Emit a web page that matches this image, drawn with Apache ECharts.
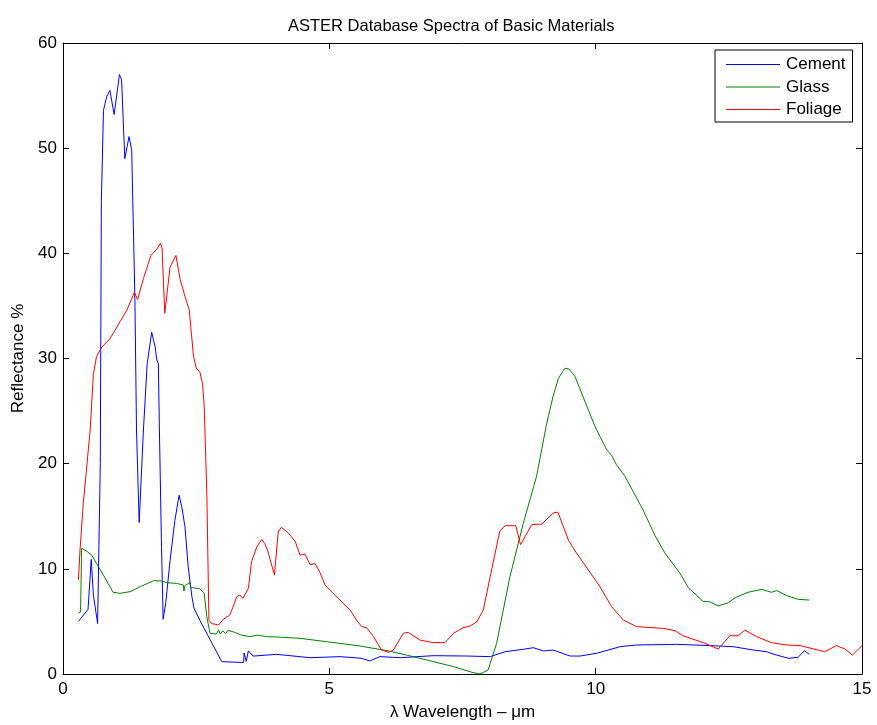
<!DOCTYPE html>
<html>
<head>
<meta charset="utf-8">
<script src="https://cdn.jsdelivr.net/npm/echarts@6/dist/echarts.min.js"></script>
<style>
  html, body { margin: 0; padding: 0; background: #fff; }
  #chart { width: 877px; height: 725px; }
</style>
</head>
<body>
<div id="chart"></div>
<script>
// wavelength (µm) and reflectance (%)
const cementWl = [0.29, 0.47, 0.53, 0.57, 0.65, 0.70, 0.72, 0.76, 0.82, 0.88, 0.96, 1.06, 1.10, 1.16, 1.24, 1.29, 1.35, 1.38, 1.43, 1.51, 1.58, 1.665, 1.73, 1.76, 1.79, 1.81, 1.85, 1.88, 1.93, 2.01, 2.10, 2.18, 2.23, 2.26, 2.29, 2.35, 2.42, 2.46, 2.57, 2.98, 3.35, 3.39, 3.40, 3.44, 3.48, 3.51, 3.57, 4.01, 4.64, 5.20, 5.60, 5.76, 5.95, 6.33, 6.95, 7.58, 8.02, 8.30, 8.64, 8.83, 9.02, 9.20, 9.52, 9.71, 10.02, 10.46, 10.77, 11.52, 12.15, 12.58, 12.96, 13.21, 13.33, 13.62, 13.80, 13.92, 14.01];
const cementR = [5.0, 6.15, 10.9, 7.5, 4.8, 20, 45, 53.6, 54.9, 55.5, 53.2, 57.0, 56.5, 49.0, 51.1, 49.8, 35.6, 23.2, 14.4, 23.2, 29.5, 32.5, 31.1, 29.9, 29.5, 23.2, 12.0, 5.2, 6.8, 10.8, 14.6, 17.0, 15.9, 15.8, 14.0, 10.2, 7.35, 6.25, 5.1, 1.17, 1.1, 1.1, 2.0, 1.2, 2.2, 2.35, 1.7, 1.87, 1.55, 1.65, 1.5, 1.24, 1.65, 1.55, 1.74, 1.71, 1.65, 2.12, 2.35, 2.5, 2.19, 2.28, 1.71, 1.71, 1.97, 2.6, 2.76, 2.82, 2.7, 2.6, 2.28, 2.12, 1.9, 1.49, 1.59, 2.22, 1.87];

const glassWl = [0.29, 0.33, 0.35, 0.38, 0.44, 0.54, 0.63, 0.76, 0.88, 0.94, 1.07, 1.26, 1.45, 1.70, 1.85, 1.95, 2.13, 2.26, 2.27, 2.29, 2.38, 2.40, 2.45, 2.57, 2.65, 2.70, 2.76, 2.88, 2.92, 2.95, 3.00, 3.05, 3.10, 3.20, 3.35, 3.51, 3.65, 3.82, 4.10, 4.45, 4.95, 5.58, 6.08, 6.45, 6.83, 7.33, 7.70, 7.83, 7.98, 8.14, 8.39, 8.64, 8.89, 9.08, 9.20, 9.30, 9.42, 9.50, 9.61, 9.80, 9.99, 10.21, 10.30, 10.39, 10.55, 10.89, 11.11, 11.30, 11.58, 11.74, 12.02, 12.15, 12.30, 12.49, 12.62, 12.86, 13.12, 13.30, 13.40, 13.59, 13.80, 14.01];
const glassR = [5.77, 5.9, 11.95, 12.1, 11.7, 11.3, 10.5, 9.4, 8.3, 7.77, 7.67, 7.83, 8.3, 8.87, 8.85, 8.68, 8.62, 8.46, 7.9, 8.4, 8.7, 8.2, 8.2, 8.1, 7.67, 5.45, 3.87, 3.8, 4.2, 3.8, 4.1, 3.85, 4.15, 4.0, 3.7, 3.55, 3.7, 3.55, 3.5, 3.39, 3.07, 2.66, 2.22, 1.8, 1.33, 0.7, 0.13, 0, 0.38, 2.9, 9.25, 14.3, 18.8, 23.8, 26.4, 28.1, 29.07, 29.0, 28.3, 25.9, 23.5, 21.3, 20.8, 19.9, 18.8, 15.6, 13.2, 11.5, 9.6, 8.2, 6.9, 6.85, 6.47, 6.78, 7.26, 7.77, 8.05, 7.77, 7.93, 7.45, 7.1, 7.03];

const foliageWl = [0.29, 0.32, 0.38, 0.44, 0.51, 0.57, 0.63, 0.73, 0.83, 0.88, 0.98, 1.07, 1.20, 1.34, 1.40, 1.51, 1.65, 1.76, 1.83, 1.86, 1.91, 2.01, 2.12, 2.20, 2.29, 2.37, 2.45, 2.50, 2.57, 2.62, 2.65, 2.70, 2.74, 2.79, 2.92, 3.01, 3.13, 3.20, 3.26, 3.32, 3.38, 3.48, 3.54, 3.64, 3.73, 3.79, 3.85, 3.97, 4.04, 4.10, 4.23, 4.36, 4.45, 4.54, 4.64, 4.73, 4.82, 4.92, 5.07, 5.26, 5.39, 5.51, 5.61, 5.70, 5.83, 5.98, 6.11, 6.20, 6.39, 6.48, 6.70, 6.95, 7.17, 7.33, 7.51, 7.64, 7.77, 7.89, 8.02, 8.20, 8.30, 8.50, 8.59, 8.80, 8.99, 9.20, 9.29, 9.49, 9.64, 9.89, 10.08, 10.30, 10.52, 10.77, 11.27, 11.49, 11.64, 12.02, 12.30, 12.52, 12.68, 12.80, 13.02, 13.30, 13.58, 13.84, 14.30, 14.52, 14.68, 14.82, 15.0];
const foliageR = [8.94, 11.8, 16.2, 19.4, 23.2, 28.5, 30.2, 31.1, 31.6, 31.9, 32.7, 33.5, 34.6, 36.3, 35.6, 37.6, 39.8, 40.4, 40.95, 40.5, 34.3, 38.7, 39.8, 37.5, 35.9, 34.6, 30.2, 29.1, 28.7, 27.6, 25.5, 17.2, 5.1, 4.8, 4.66, 5.2, 5.6, 6.47, 7.35, 7.5, 7.2, 8.15, 10.7, 12.1, 12.8, 12.4, 11.6, 9.4, 13.5, 13.95, 13.4, 12.6, 11.3, 11.4, 10.4, 10.5, 9.7, 8.46, 7.67, 6.72, 6.09, 5.13, 4.5, 4.4, 3.55, 2.28, 2.06, 2.28, 3.87, 3.96, 3.23, 2.98, 2.98, 3.87, 4.4, 4.56, 4.97, 6.09, 9.25, 13.6, 14.1, 14.1, 12.3, 14.2, 14.26, 15.3, 15.4, 12.7, 11.5, 9.7, 8.3, 6.4, 5.13, 4.5, 4.34, 4.12, 3.64, 2.98, 2.38, 3.64, 3.64, 4.18, 3.55, 2.98, 2.76, 2.7, 2.12, 2.7, 2.38, 1.8, 2.7];

const xTicks = [0, 5, 10, 15];
const yTicks = [0, 10, 20, 30, 40, 50, 60];

const zip = (xs, ys) => xs.map((x, i) => [x, ys[i]]);

const chart = echarts.init(document.getElementById('chart'));
const font = 'Liberation Sans, Arial, Helvetica, sans-serif';

// shared frame style: ticks inside on all four sides, like a matlab box
const boxAxis = {
  type: 'value',
  axisLine: { show: true, onZero: false, lineStyle: { color: '#000', width: 1 } },
  axisTick: { show: true, inside: true, length: 6, lineStyle: { color: '#000' } },
  splitLine: { show: false },
};

const option = {
  backgroundColor: '#fff',
  animation: false,
  title: {
    text: 'ASTER Database Spectra of Basic Materials',
    left: 283,
    top: 13,
    textStyle: { fontFamily: font, fontSize: 16.5, fontWeight: 'normal', color: '#000' }
  },
  grid: { left: 63, right: 15, top: 43, bottom: 51, outerBoundsMode: 'none', containLabel: false },
  legend: {
    orient: 'vertical',
    left: 715,
    top: 50,
    padding: [6, 7, 4, 11],
    itemGap: 5.5,
    itemWidth: 54,
    itemHeight: 17,
    // thin bar so the key reads as a plain 1px line
    icon: 'path://M0,0H54V1H0Z',
    borderColor: '#000',
    borderWidth: 1,
    borderRadius: 0,
    backgroundColor: '#fff',
    textStyle: { fontFamily: font, fontSize: 17, lineHeight: 17, color: '#000', padding: [0, 0, 0, 1] },
    data: ['Cement', 'Glass', 'Foliage']
  },
  xAxis: [
    Object.assign({}, boxAxis, {
      min: xTicks[0], max: xTicks[xTicks.length - 1], interval: 5,
      position: 'bottom',
      name: 'λ Wavelength – μm',
      nameLocation: 'middle',
      nameGap: 30,
      nameTextStyle: { fontFamily: font, fontSize: 17, color: '#000' },
      axisLabel: { fontFamily: font, fontSize: 17, color: '#000', margin: 7 }
    }),
    Object.assign({}, boxAxis, {
      min: xTicks[0], max: xTicks[xTicks.length - 1], interval: 5,
      position: 'top',
      axisLabel: { show: false }
    })
  ],
  yAxis: [
    Object.assign({}, boxAxis, {
      min: yTicks[0], max: yTicks[yTicks.length - 1], interval: 10,
      position: 'left',
      name: 'Reflectance %',
      nameLocation: 'middle',
      nameGap: 36,
      nameTextStyle: { fontFamily: font, fontSize: 17, color: '#000' },
      axisLabel: { fontFamily: font, fontSize: 17, color: '#000', margin: 6 }
    }),
    Object.assign({}, boxAxis, {
      min: yTicks[0], max: yTicks[yTicks.length - 1], interval: 10,
      position: 'right',
      axisLabel: { show: false }
    })
  ],
  series: [
    {
      name: 'Cement', type: 'line', showSymbol: false, symbol: 'none',
      color: '#0000ff', lineStyle: { width: 1, color: '#0000ff' },
      data: zip(cementWl, cementR)
    },
    {
      name: 'Glass', type: 'line', showSymbol: false, symbol: 'none',
      color: '#008000', lineStyle: { width: 1, color: '#008000' },
      data: zip(glassWl, glassR)
    },
    {
      name: 'Foliage', type: 'line', showSymbol: false, symbol: 'none',
      color: '#ff0000', lineStyle: { width: 1, color: '#ff0000' },
      data: zip(foliageWl, foliageR)
    }
  ]
};

chart.setOption(option);
</script>
</body>
</html>
